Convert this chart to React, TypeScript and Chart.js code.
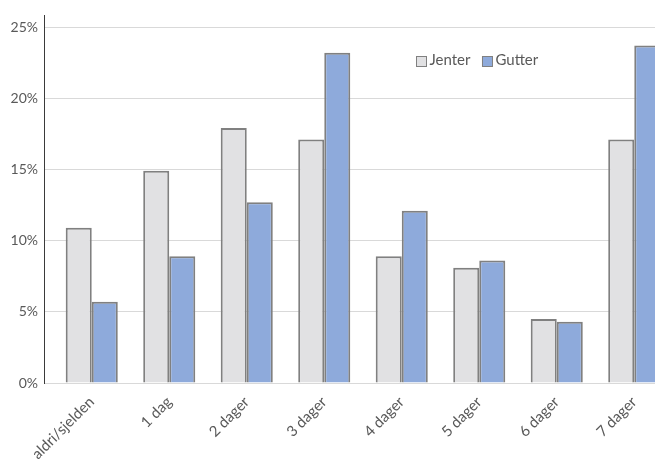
import React, { useEffect, useRef } from "react";
import { Chart, registerables } from "chart.js";

Chart.register(...registerables);

// Share of pupils per number of days, by gender (percent)
const categories = [
  "aldri/sjelden",
  "1 dag",
  "2 dager",
  "3 dager",
  "4 dager",
  "5 dager",
  "6 dager",
  "7 dager",
];
const jenter = [10.9, 14.9, 17.9, 17.1, 8.9, 8.1, 4.5, 17.1];
const gutter = [5.7, 8.9, 12.7, 23.2, 12.1, 8.6, 4.3, 23.7];
const seriesNames = ["Jenter", "Gutter"];
const yTicks = [0, 5, 10, 15, 20, 25];

const TEXT = "#595959";
const GRID = "#d9d9d9";
const FONT = "Lato, 'Open Sans', sans-serif";

// Vertical axis line set a little left of the plot, plus an inline legend
const decorations = {
  id: "decorations",
  afterDraw(chart: any) {
    const { ctx, chartArea } = chart;
    ctx.save();
    ctx.strokeStyle = "#3a3a3a";
    ctx.lineWidth = 1;
    ctx.beginPath();
    const x = chartArea.left - 8.5;
    ctx.moveTo(x, 15);
    ctx.lineTo(x, chartArea.bottom + 1);
    ctx.stroke();

    // legend
    let lx = 416.5;
    const ly = 56.5;
    ctx.font = `15px ${FONT}`;
    ctx.textBaseline = "middle";
    chart.data.datasets.forEach((ds: any) => {
      ctx.fillStyle = ds.backgroundColor;
      ctx.fillRect(lx, ly, 10, 10);
      ctx.strokeStyle = ds.borderColor;
      ctx.lineWidth = 1;
      ctx.strokeRect(lx, ly, 10, 10);
      ctx.fillStyle = TEXT;
      ctx.fillText(ds.label, lx + 13, ly + 4);
      lx += 13 + ctx.measureText(ds.label).width + 12;
    });
    ctx.restore();
  },
};

export default function App() {
  const ref = useRef<HTMLCanvasElement>(null);

  useEffect(() => {
    const chart = new Chart(ref.current!, {
      type: "bar",
      data: {
        labels: categories,
        datasets: [
          {
            label: seriesNames[0],
            data: jenter,
            backgroundColor: "#e1e1e3",
            borderColor: "#808080",
            borderWidth: 2,
          },
          {
            label: seriesNames[1],
            data: gutter,
            backgroundColor: "#8eaadb",
            borderColor: "#808080",
            borderWidth: 2,
          },
        ],
      },
      options: {
        responsive: false,
        animation: false,
        datasets: {
          bar: { barPercentage: 1, categoryPercentage: 0.672 },
        },
        layout: { padding: { left: 0, right: 7, top: 27, bottom: 0 } },
        plugins: {
          legend: { display: false },
          tooltip: { enabled: false },
        },
        scales: {
          x: {
            afterFit: (s: any) => {
              s.height = 77;
            },
            grid: { display: false },
            border: { display: true, color: GRID, width: 1 },
            ticks: {
              color: TEXT,
              font: { family: FONT, size: 15 },
              minRotation: 45,
              maxRotation: 45,
              padding: 2,
              autoSkip: false,
            },
          },
          y: {
            min: 0,
            max: 25,
            afterFit: (s: any) => {
              s.width = 53;
            },
            afterBuildTicks: (s: any) => {
              s.ticks = yTicks.map((v) => ({ value: v }));
            },
            grid: {
              color: GRID,
              lineWidth: 1,
              drawTicks: true,
              tickLength: 9,
            },
            border: { display: false },
            ticks: {
              color: TEXT,
              font: { family: FONT, size: 14 },
              padding: 6,
              callback: (v: any) => `${v}%`,
            },
          },
        },
      },
      plugins: [decorations],
    });
    return () => chart.destroy();
  }, []);

  return (
    <div
      style={{
        position: "fixed",
        left: 0,
        top: 0,
        width: 655,
        height: 460,
        overflow: "hidden",
        background: "#fff",
      }}
    >
      <canvas ref={ref} width={680} height={460} style={{ display: "block" }} />
    </div>
  );
}
